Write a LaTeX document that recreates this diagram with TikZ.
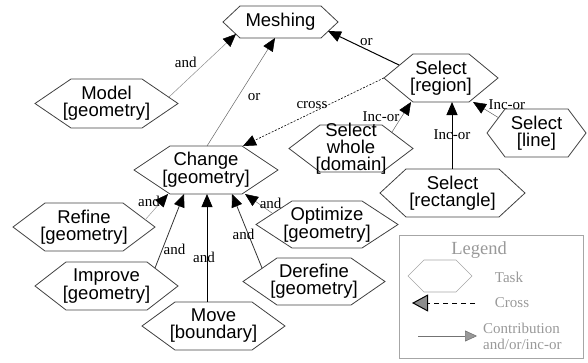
\documentclass[tikz,border=0pt]{standalone}
\usepackage{fontspec}
\setmainfont{Liberation Sans}
\newfontfamily\lblfont{Liberation Serif}
\usepackage{tikz}
\usetikzlibrary{arrows.meta,calc}
\tikzset{
	taskline/.style={draw=black!75, line width=0.8pt},
	tasktext/.style={inner sep=0pt, align=center, font=\fontsize{18.5}{17}\selectfont},
	lbl/.style={font=\lblfont\fontsize{15}{15}\selectfont, text=black, inner sep=1pt},
	contrib/.style={-{Triangle[length=13pt,width=11pt,color=black,fill=black]}, line width=0.6pt},
	legtext/.style={font=\lblfont\fontsize{15}{16}\selectfont, text=black!40, align=left, inner sep=0pt}
}
% hexagon task: (name)(x,y)(half width:tip offset:half height){text}
\def\task(#1)(#2,#3)(#4:#5:#6)#7{%
	\draw[taskline] (#2-#4,#3) -- (#2-#4+#5,#3-#6) -- (#2+#4-#5,#3-#6) -- (#2+#4,#3)
		-- (#2+#4-#5,#3+#6) -- (#2-#4+#5,#3+#6) -- cycle;
	\node[tasktext, minimum width=2*#4, minimum height=2*#6] (#1) at (#2,#3) {#7};}

\begin{document}
\begin{tikzpicture}[x=1pt, y=-1pt]
		%%%%% START %%%%%
		\useasboundingbox (0,0) rectangle (588,362);
		
		\task(meshing)(280.5,22)(57.5:17:16){Meshing}
		\task(model)(106.5,103.5)(71.5:36:24.5){Model\\{}[geometry]}
		\task(change)(206,170)(72:36:24){Change\\{}[geometry]}
		\task(region)(441,78)(57:29:24){Select\\{}[region]}
		\task(whole)(351,148.5)(62:31:23.5){Select\\whole\\{}[domain]}
		\task(line)(536.5,133)(49.5:18:24){Select\\{}[line]}
		\task(rect)(452.5,193)(72.5:26:24){Select\\{}[rectangle]}
		
		\task(refine)(84,227)(71:32:24){Refine\\{}[geometry]}
		\task(improve)(106.5,286)(71.5:31:24){Improve\\{}[geometry]}
		\task(move)(213.5,326)(71.5:33:24){Move\\{}[boundary]}
		\task(optimize)(327,224.5)(71:36:23.5){Optimize\\{}[geometry]}
		\task(derefine)(314,281.5)(71:34:23.5){Derefine\\{}[geometry]}
		
		% contributions to meshing
		\draw[contrib, black!45, line width=0.5pt] ([shift={(62.5,-6.5)}]model.center) -- ([shift={(-44.5,12)}]meshing.center)
			node[lbl, pos=.55, left=8pt] {and};
		\draw[contrib, black!60, line width=0.5pt] ([shift={(1,-24)}]change.center) -- ([shift={(-5.5,16)}]meshing.center)
			node[lbl, pos=.45, right=9pt] {or};
		\draw[contrib, black, line width=1pt] ([shift={(-42,-13)}]region.center) -- ([shift={(47.5,9)}]meshing.center)
			node[lbl, pos=.46, above=2pt] {or};
		
		% cross
		\draw[-{Triangle[length=13pt,width=11pt]}, dash pattern=on 2pt off 1.5pt, line width=0.6pt]
			(region.west) -- ([shift={(37,-24)}]change.center) node[lbl, pos=.51, above=3pt] {cross};
		
		% select
		\draw[contrib, black!60, line width=0.5pt] ([shift={(41,-16.5)}]whole.center) -- ([shift={(-30,24)}]region.center)
			node[lbl, pos=.5, left=1pt] {Inc-or};
		\draw[contrib, black, line width=1pt] ([shift={(-0.5,-24)}]rect.center) -- ([shift={(11,24)}]region.center)
			node[lbl, pos=.52] {Inc-or};
		\draw[contrib, black!60, line width=0.5pt] ([shift={(-37.5,-15)}]line.center) -- ([shift={(32,24)}]region.center)
			node[lbl, pos=.45, above right=0pt] {Inc-or};
		
		% contributions to change
		\draw[contrib, black!40, line width=0.5pt] ([shift={(61,-7)}]refine.center) -- ([shift={(-38,24)}]change.center)
			node[lbl, pos=.7, left] {and};
		\draw[contrib, black!80, line width=0.8pt] ([shift={(48.5,-18)}]improve.center) -- ([shift={(-22,24)}]change.center)
			node[lbl, pos=.25, anchor=west] {and};
		\draw[contrib, black, line width=0.8pt] ([shift={(-6.5,-24)}]move.center) -- ([shift={(1,24)}]change.center)
			node[lbl, pos=.41, xshift=-3pt] {and};
		\draw[contrib, black!80, line width=0.8pt] ([shift={(-52,-13.5)}]derefine.center) -- ([shift={(26,24)}]change.center)
			node[lbl, pos=.45, xshift=-5pt] {and};
		\draw[contrib, black!55, line width=0.5pt] ([shift={(-55,-11.5)}]optimize.center) -- ([shift={(39,24)}]change.center)
			node[lbl, pos=.5, anchor=west] {and};
		
		% legend
		\draw[draw=black!35, line width=0.8pt] (399,235) rectangle (583,358);
		\node[font=\lblfont\fontsize{18.5}{18}\selectfont, text=black!40, inner sep=0pt] (legend) at (479,250) {Legend};
		\draw[draw=black!35, line width=0.6pt] (408,276) -- (424,260) -- (456,260) -- (472,276) -- (456,292) -- (424,292) -- cycle;
		\node[legtext] (legtask) at (509,277) {Task};
		\draw[dash pattern=on 5pt off 4pt, line width=1pt, -{Triangle[length=16pt,width=17pt,fill=black!45]}] (475,303) -- (412,303);
		\node[legtext] (legcross) at (512,303) {Cross};
		\draw[black!55, line width=0.6pt, -{Triangle[length=12pt,width=11pt,fill=black!40]}] (418,336) -- (477,336);
		\node[legtext, anchor=west] (legcontrib) at (483,336) {Contribution\\and/or/inc-or};
		
		%%%%% END %%%%%
	\end{tikzpicture}
\end{document}
